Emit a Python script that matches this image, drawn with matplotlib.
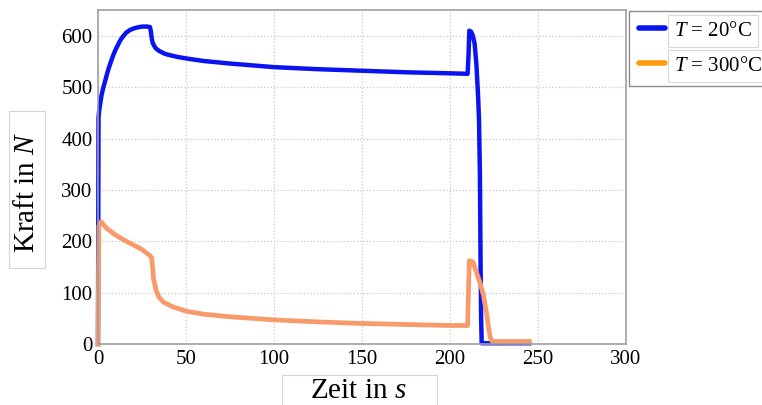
import matplotlib
matplotlib.use('Agg')
import matplotlib.pyplot as plt
from matplotlib.lines import Line2D
from matplotlib.patches import Rectangle

plt.rcParams['font.family'] = ['Liberation Serif', 'DejaVu Serif']
plt.rcParams['mathtext.fontset'] = 'custom'
plt.rcParams['mathtext.rm'] = 'Liberation Serif'
plt.rcParams['mathtext.it'] = 'Liberation Serif:italic'

# T = 20°C
t_20 = [0, 0.3, 0.6, 1, 2, 3, 4, 5, 6, 7, 8, 9, 10, 11, 12, 13, 14, 15, 16, 18,
        20, 22, 25, 28, 29.5, 30, 30.5, 31, 32, 33, 35, 38, 40, 45, 50, 60, 75,
        100, 125, 150, 175, 200, 210, 210.5, 211, 212, 213, 214, 215, 216, 216.5,
        217, 217.4, 217.7, 218, 230, 245]
f_20 = [0, 440, 452, 462, 484, 499, 511, 524, 536, 546, 556, 565, 573, 580, 587,
        593, 598, 602, 606, 611, 614, 616, 618, 618, 617, 610, 596, 587, 580, 575,
        570, 565, 563, 559, 556, 551, 546, 539, 535, 532, 529, 527, 526, 560, 610,
        608, 600, 585, 545, 480, 436, 330, 150, 50, 1.5, 1.5, 1.5]

# T = 300°C
t_300 = [0, 0.5, 1.7, 5, 10, 15, 20, 25, 29.5, 30.5, 31, 31.5, 33, 34.5, 37, 42,
         50, 60, 75, 100, 125, 150, 175, 200, 210, 210.5, 211, 213, 215, 217, 219,
         221, 222, 223, 224, 230, 245]
f_300 = [0, 230, 238, 225, 212, 202, 193, 184, 172, 168, 150, 128, 105, 92, 82, 73,
         64, 58, 53, 47, 43, 40, 38, 36, 36, 100, 162, 160, 140, 120, 95, 55, 30, 12,
         5, 5, 5]

x_ticks = [0, 50, 100, 150, 200, 250, 300]
y_ticks = [0, 100, 200, 300, 400, 500, 600]

W, H = 762, 405
fig = plt.figure(figsize=(W / 100, H / 100), dpi=100)
ax = fig.add_axes([0.1286, 0.1506, 0.6929, 0.8244])

ax.plot(t_20, f_20, color='#0a14f0', lw=3.2, solid_joinstyle='round', clip_on=False)
ax.plot(t_300, f_300, color='#f89a6a', lw=3.4, solid_joinstyle='round', clip_on=False)

ax.set_xlim(0, 300)
ax.set_ylim(0, 650)
ax.set_xticks(x_ticks)
ax.set_yticks(y_ticks)
ax.tick_params(labelsize=15, length=0, pad=4)
ax.grid(True, color='#c8c8c8', linestyle=':', linewidth=0.9)
for s in ax.spines.values():
    s.set_color('#a0a0a0')
    s.set_linewidth(1.2)


def px_box(x0, y0, x1, y1):
    # rectangle given in image pixels from top-left
    fig.patches.append(Rectangle((x0 / W, 1 - y1 / H), (x1 - x0) / W, (y1 - y0) / H,
                                 transform=fig.transFigure, facecolor='white',
                                 edgecolor='#d4d4d4', linewidth=0.8, zorder=0))


px_box(9, 111, 45, 268)
px_box(282, 375, 437, 412)
fig.text(27 / W, 1 - 192 / H, 'Kraft in $N$', fontsize=21, rotation=90,
         ha='center', va='center')
fig.text(358 / W, 1 - 391 / H, 'Zeit in $s$', fontsize=21,
         ha='center', va='center')

handles = [Line2D([], [], color='#0a14f0', lw=4, solid_capstyle='round'),
           Line2D([], [], color='#ff9a10', lw=4, solid_capstyle='round')]
leg = fig.legend(handles, ['$T$ = 20°C', '$T$ = 300°C'], loc='upper left',
                 bbox_to_anchor=(629 / W, 1 - 10.5 / H), fontsize=15, frameon=True,
                 fancybox=False, edgecolor='#707070', handlelength=1.25,
                 handletextpad=0.4, borderpad=0.5, labelspacing=0.75,
                 borderaxespad=0)
leg.get_frame().set_linewidth(1.0)
for txt in leg.get_texts():
    txt.set_bbox(dict(facecolor='white', edgecolor='#d8d8d8', linewidth=0.8,
                      boxstyle='square,pad=0.3'))

fig.savefig('out.png', dpi=100)
